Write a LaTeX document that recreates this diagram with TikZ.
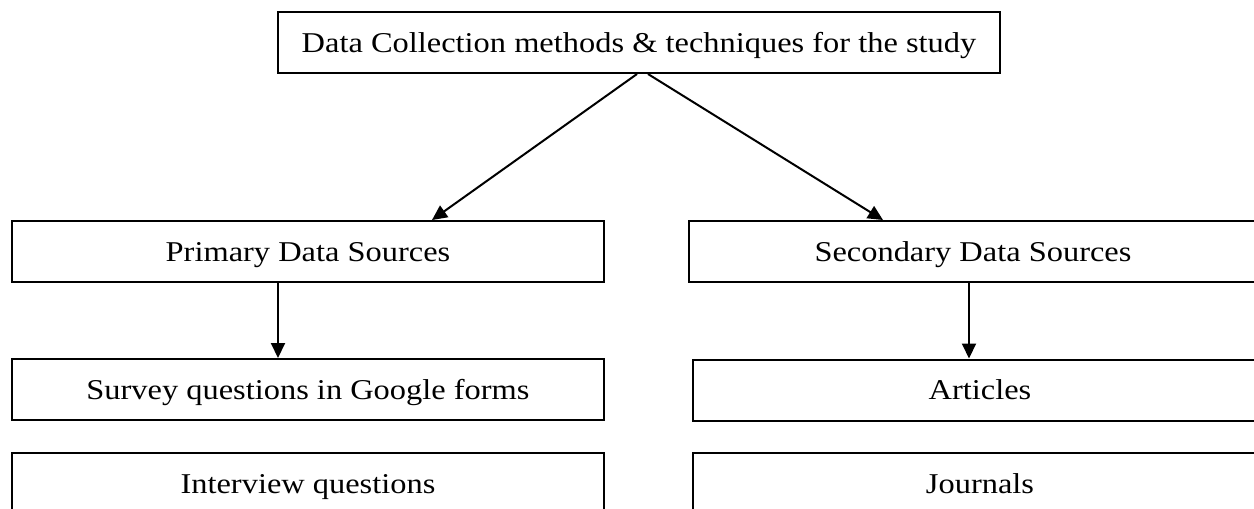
\documentclass[tikz,border=0pt]{standalone}
\usepackage{fontspec}
\setmainfont{Liberation Serif}[FakeStretch=1.13]
\usetikzlibrary{arrows.meta}
\begin{document}
\begin{tikzpicture}[x=1pt,y=-1pt,
  box/.style={draw, line width=2pt, inner sep=0pt, minimum height=61pt,
    font=\fontsize{28.7pt}{34pt}\selectfont, text height=19pt, text depth=0pt},
  arr/.style={line width=2pt, -{Triangle[length=15pt,width=14pt]}}]
  \useasboundingbox (0,0) rectangle (1254,509);
  \clip (0,0) rectangle (1254,509);
  % root of the tree
  \node[box, minimum width=722pt] (top) at (639,42.5)
    {Data Collection methods \& techniques for the study};
  % the two kinds of source
  \node[box, minimum width=592pt] (prim) at (308,251.5) {Primary Data Sources};
  \node[box, minimum width=568pt] (sec) at (973,251.5) {Secondary Data Sources};
  % primary sources
  \node[box, minimum width=592pt] (survey) at (308,389.5) {Survey questions in Google forms};
  \node[box, minimum width=592pt] (inter) at (308,483.5) {Interview questions};
  % secondary sources
  \node[box, minimum width=574pt] (art) at (980,390) {Articles};
  \node[box, minimum width=574pt] (jour) at (980,483.5) {Journals};
  % connectors
  \draw[arr] ([xshift=-2pt]top.south) -- ([xshift=124pt]prim.north);
  \draw[arr] ([xshift=9pt]top.south) -- ([xshift=-90pt]sec.north);
  \draw[arr] ([xshift=-30pt]prim.south) -- ([xshift=-30pt]survey.north);
  \draw[arr] ([xshift=-4pt]sec.south) -- ([xshift=-11pt]art.north);
\end{tikzpicture}
\end{document}
